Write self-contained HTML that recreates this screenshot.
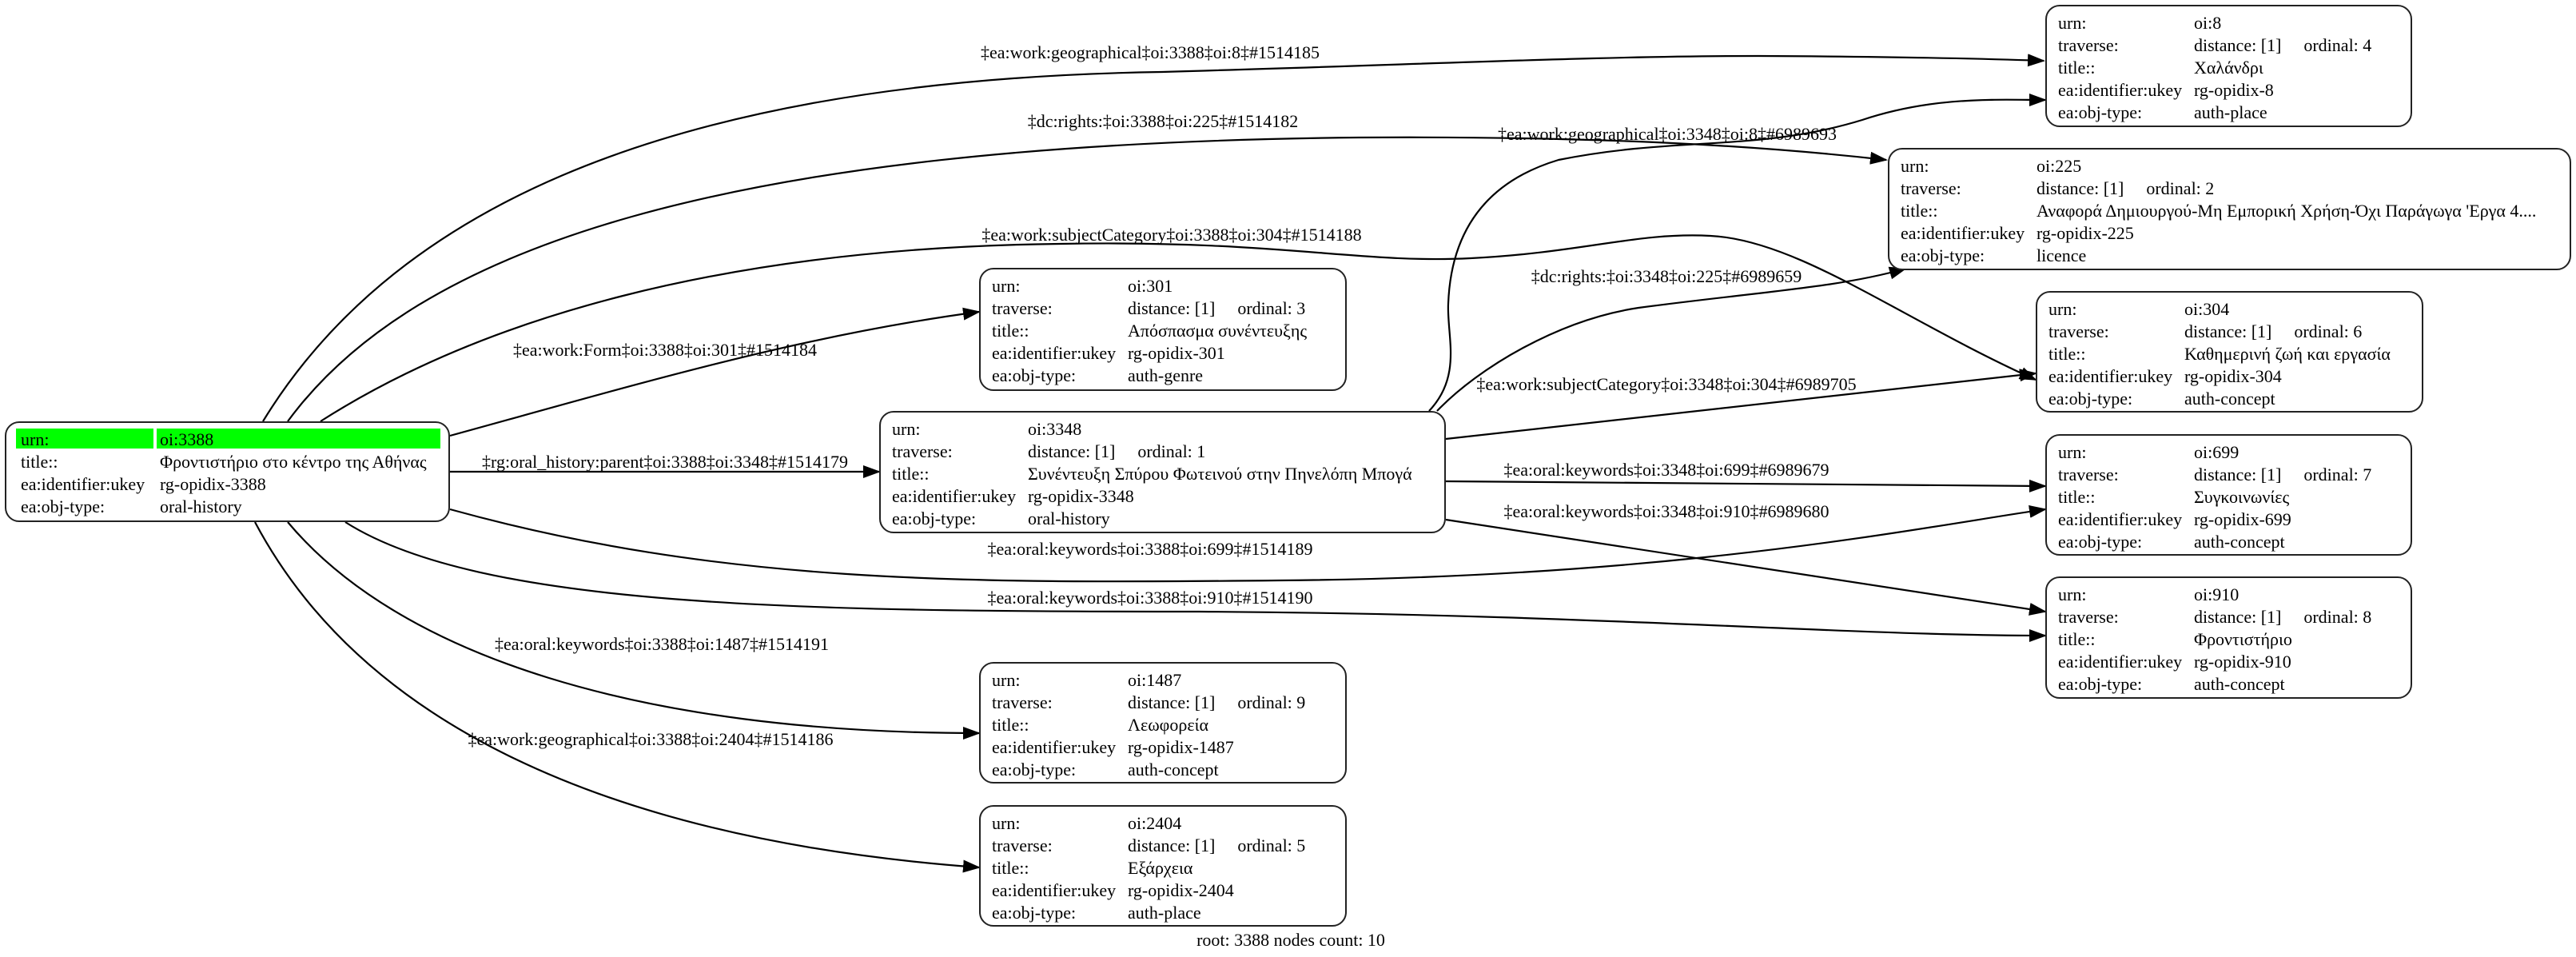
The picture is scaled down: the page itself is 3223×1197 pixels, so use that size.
<!DOCTYPE html>
<html><head><meta charset="utf-8">
<style>
html,body{margin:0;padding:0;background:#fff;}
body{width:3223px;height:1197px;position:relative;overflow:hidden;font-family:"Liberation Serif","DejaVu Serif",serif;font-size:22px;color:#000;}
.box{position:absolute;border:2px solid #222;border-radius:18px;background:#fff;box-sizing:border-box;padding-top:7px;}
.row{height:28px;line-height:28px;white-space:nowrap;position:relative;}
.k{position:absolute;left:14px;}
.v{position:absolute;left:184px;}
.o{margin-left:28px;}
.hl{position:absolute;left:12px;right:10px;top:0;height:25px;}
.hl .a{position:absolute;left:0;width:172px;height:25px;background:#00ff00;}
.hl .b{position:absolute;left:176px;right:0;height:25px;background:#00ff00;}
.lbl{position:absolute;white-space:nowrap;transform:translate(-50%,-50%);line-height:1;}
svg{position:absolute;left:0;top:0;}
</style></head><body>
<svg width="3223" height="1197" viewBox="0 0 3223 1197">
<defs><marker id="ar" markerUnits="userSpaceOnUse" markerWidth="22" markerHeight="16" refX="20" refY="8" orient="auto"><path d="M0,0 L22,8 L0,16 z" fill="#000"/></marker></defs>
<g fill="none" stroke="#000" stroke-width="2.2" marker-end="url(#ar)">
<path d="M329,527 C480,280 800,100 1454,90 C1800,80 2000,70 2200,70 C2400,71 2500,74 2557,76"/>
<path d="M360,527 C520,310 900,180 1700,172 C2000,170 2200,182 2360,200"/>
<path d="M401,527 C600,400 900,310 1326,305 C1600,300 1700,330 1840,323 C1980,316 2050,290 2140,295 C2250,300 2380,400 2547,475"/>
<path d="M563,545 C800,480 1000,420 1225,390"/>
<path d="M563,590 L1100,590"/>
<path d="M563,637 C900,730 1200,730 1600,726 C2100,722 2400,660 2559,637"/>
<path d="M432,653 C600,760 1000,765 1500,765 C2000,768 2300,795 2559,795"/>
<path d="M360,653 C500,820 800,917 1225,917"/>
<path d="M319,653 C450,900 750,1050 1225,1085"/>
<path d="M1788,514 C1830,470 1810,420 1812,380 C1815,300 1850,230 1950,200 C2100,170 2200,190 2330,150 C2420,120 2500,125 2559,125"/>
<path d="M1798,514 C1850,460 1950,400 2050,385 C2200,365 2300,360 2384,336"/>
<path d="M1809,549 L2547,467"/>
<path d="M1809,602 L2559,608"/>
<path d="M1809,650 L2559,765"/>
</g>
</svg>

<div class="lbl" style="left:1439px;top:66px">‡ea:work:geographical‡oi:3388‡oi:8‡#1514185</div>
<div class="lbl" style="left:1455px;top:152px">‡dc:rights:‡oi:3388‡oi:225‡#1514182</div>
<div class="lbl" style="left:1466px;top:294px">‡ea:work:subjectCategory‡oi:3388‡oi:304‡#1514188</div>
<div class="lbl" style="left:832px;top:438px">‡ea:work:Form‡oi:3388‡oi:301‡#1514184</div>
<div class="lbl" style="left:832px;top:578px">‡rg:oral_history:parent‡oi:3388‡oi:3348‡#1514179</div>
<div class="lbl" style="left:1439px;top:687px">‡ea:oral:keywords‡oi:3388‡oi:699‡#1514189</div>
<div class="lbl" style="left:1439px;top:748px">‡ea:oral:keywords‡oi:3388‡oi:910‡#1514190</div>
<div class="lbl" style="left:828px;top:806px">‡ea:oral:keywords‡oi:3388‡oi:1487‡#1514191</div>
<div class="lbl" style="left:814px;top:925px">‡ea:work:geographical‡oi:3388‡oi:2404‡#1514186</div>
<div class="lbl" style="left:2086px;top:168px">‡ea:work:geographical‡oi:3348‡oi:8‡#6989693</div>
<div class="lbl" style="left:2085px;top:346px">‡dc:rights:‡oi:3348‡oi:225‡#6989659</div>
<div class="lbl" style="left:2085px;top:481px">‡ea:work:subjectCategory‡oi:3348‡oi:304‡#6989705</div>
<div class="lbl" style="left:2085px;top:588px">‡ea:oral:keywords‡oi:3348‡oi:699‡#6989679</div>
<div class="lbl" style="left:2085px;top:640px">‡ea:oral:keywords‡oi:3348‡oi:910‡#6989680</div>

<div class="box" style="left:6px;top:527px;width:557px;height:126px;">
<div class="row"><div class="hl"><div class="a"></div><div class="b"></div></div><span class="k" style="left:18px">urn:</span><span class="v" style="left:192px">oi:3388</span></div>
<div class="row"><span class="k" style="left:18px">title::</span><span class="v" style="left:192px">Φροντιστήριο στο κέντρο της Αθήνας</span></div>
<div class="row"><span class="k" style="left:18px">ea:identifier:ukey</span><span class="v" style="left:192px">rg-opidix-3388</span></div>
<div class="row"><span class="k" style="left:18px">ea:obj-type:</span><span class="v" style="left:192px">oral-history</span></div>
</div>

<div class="box" style="left:1100px;top:514px;width:709px;height:153px;">
<div class="row"><span class="k">urn:</span><span class="v">oi:3348</span></div>
<div class="row"><span class="k">traverse:</span><span class="v">distance: [1]<span class="o">ordinal: 1</span></span></div>
<div class="row"><span class="k">title::</span><span class="v">Συνέντευξη Σπύρου Φωτεινού στην Πηνελόπη Μπογά</span></div>
<div class="row"><span class="k">ea:identifier:ukey</span><span class="v">rg-opidix-3348</span></div>
<div class="row"><span class="k">ea:obj-type:</span><span class="v">oral-history</span></div>
</div>

<div class="box" style="left:2559px;top:6px;width:459px;height:153px;">
<div class="row"><span class="k">urn:</span><span class="v">oi:8</span></div>
<div class="row"><span class="k">traverse:</span><span class="v">distance: [1]<span class="o">ordinal: 4</span></span></div>
<div class="row"><span class="k">title::</span><span class="v">Χαλάνδρι</span></div>
<div class="row"><span class="k">ea:identifier:ukey</span><span class="v">rg-opidix-8</span></div>
<div class="row"><span class="k">ea:obj-type:</span><span class="v">auth-place</span></div>
</div>

<div class="box" style="left:2362px;top:185px;width:855px;height:153px;">
<div class="row"><span class="k">urn:</span><span class="v">oi:225</span></div>
<div class="row"><span class="k">traverse:</span><span class="v">distance: [1]<span class="o">ordinal: 2</span></span></div>
<div class="row"><span class="k">title::</span><span class="v">Αναφορά Δημιουργού-Μη Εμπορική Χρήση-Όχι Παράγωγα 'Εργα 4....</span></div>
<div class="row"><span class="k">ea:identifier:ukey</span><span class="v">rg-opidix-225</span></div>
<div class="row"><span class="k">ea:obj-type:</span><span class="v">licence</span></div>
</div>

<div class="box" style="left:1225px;top:335px;width:460px;height:154px;">
<div class="row"><span class="k">urn:</span><span class="v">oi:301</span></div>
<div class="row"><span class="k">traverse:</span><span class="v">distance: [1]<span class="o">ordinal: 3</span></span></div>
<div class="row"><span class="k">title::</span><span class="v">Απόσπασμα συνέντευξης</span></div>
<div class="row"><span class="k">ea:identifier:ukey</span><span class="v">rg-opidix-301</span></div>
<div class="row"><span class="k">ea:obj-type:</span><span class="v">auth-genre</span></div>
</div>

<div class="box" style="left:2547px;top:364px;width:485px;height:152px;">
<div class="row"><span class="k">urn:</span><span class="v">oi:304</span></div>
<div class="row"><span class="k">traverse:</span><span class="v">distance: [1]<span class="o">ordinal: 6</span></span></div>
<div class="row"><span class="k">title::</span><span class="v">Καθημερινή ζωή και εργασία</span></div>
<div class="row"><span class="k">ea:identifier:ukey</span><span class="v">rg-opidix-304</span></div>
<div class="row"><span class="k">ea:obj-type:</span><span class="v">auth-concept</span></div>
</div>

<div class="box" style="left:2559px;top:543px;width:459px;height:152px;">
<div class="row"><span class="k">urn:</span><span class="v">oi:699</span></div>
<div class="row"><span class="k">traverse:</span><span class="v">distance: [1]<span class="o">ordinal: 7</span></span></div>
<div class="row"><span class="k">title::</span><span class="v">Συγκοινωνίες</span></div>
<div class="row"><span class="k">ea:identifier:ukey</span><span class="v">rg-opidix-699</span></div>
<div class="row"><span class="k">ea:obj-type:</span><span class="v">auth-concept</span></div>
</div>

<div class="box" style="left:2559px;top:721px;width:459px;height:153px;">
<div class="row"><span class="k">urn:</span><span class="v">oi:910</span></div>
<div class="row"><span class="k">traverse:</span><span class="v">distance: [1]<span class="o">ordinal: 8</span></span></div>
<div class="row"><span class="k">title::</span><span class="v">Φροντιστήριο</span></div>
<div class="row"><span class="k">ea:identifier:ukey</span><span class="v">rg-opidix-910</span></div>
<div class="row"><span class="k">ea:obj-type:</span><span class="v">auth-concept</span></div>
</div>

<div class="box" style="left:1225px;top:828px;width:460px;height:152px;">
<div class="row"><span class="k">urn:</span><span class="v">oi:1487</span></div>
<div class="row"><span class="k">traverse:</span><span class="v">distance: [1]<span class="o">ordinal: 9</span></span></div>
<div class="row"><span class="k">title::</span><span class="v">Λεωφορεία</span></div>
<div class="row"><span class="k">ea:identifier:ukey</span><span class="v">rg-opidix-1487</span></div>
<div class="row"><span class="k">ea:obj-type:</span><span class="v">auth-concept</span></div>
</div>

<div class="box" style="left:1225px;top:1007px;width:460px;height:152px;">
<div class="row"><span class="k">urn:</span><span class="v">oi:2404</span></div>
<div class="row"><span class="k">traverse:</span><span class="v">distance: [1]<span class="o">ordinal: 5</span></span></div>
<div class="row"><span class="k">title::</span><span class="v">Εξάρχεια</span></div>
<div class="row"><span class="k">ea:identifier:ukey</span><span class="v">rg-opidix-2404</span></div>
<div class="row"><span class="k">ea:obj-type:</span><span class="v">auth-place</span></div>
</div>

<div class="lbl" style="left:1615px;top:1176px">root: 3388 nodes count: 10</div>
</body></html>
